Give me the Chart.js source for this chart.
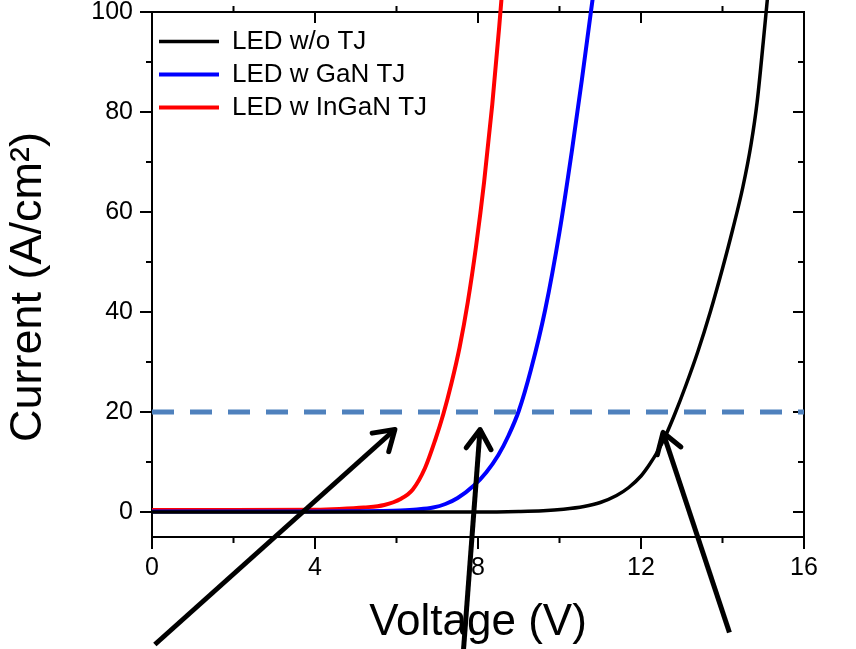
<!DOCTYPE html>
<html>
<head>
<meta charset="utf-8">
<script src="https://cdn.jsdelivr.net/npm/chart.js@4.4.1/dist/chart.umd.min.js"></script>
<style>
  html, body { margin: 0; padding: 0; background: #fff; }
</style>
</head>
<body>
<canvas id="ivChart" width="856" height="649"></canvas>
<script>
// legend names
const seriesNames = ["LED w/o TJ", "LED w GaN TJ", "LED w InGaN TJ"];

// voltage (V) and current density (A/cm2)
const vNoTJ = [0, 4, 8, 9.0, 9.6, 10.1, 10.6, 11.0, 11.4, 11.7, 12.0, 12.2, 12.4, 12.6, 12.83, 13.1, 13.4, 13.7, 14.0, 14.25, 14.5, 14.7, 14.85, 15.0, 15.13];
const iNoTJ = [0, 0, 0, 0.1, 0.25, 0.55, 1.1, 1.9, 3.3, 4.9, 7.2, 9.4, 12.0, 15.2, 19.6, 25.3, 32.2, 40.0, 48.7, 56.5, 65, 73.5, 82, 94, 105];

const vGaN = [0, 2, 4, 5, 5.6, 6.1, 6.5, 6.9, 7.2, 7.5, 7.9, 8.2, 8.5, 8.75, 9.0, 9.3, 9.65, 10.0, 10.3, 10.55, 10.77, 10.87];
const iGaN = [0.1, 0.1, 0.1, 0.15, 0.2, 0.3, 0.5, 0.9, 1.6, 2.8, 5.3, 7.9, 11.4, 15.3, 20.2, 28.5, 40.5, 56, 72, 86.5, 100, 106];

const vInGaN = [0, 2, 4, 4.6, 5.2, 5.7, 6.1, 6.4, 6.7, 6.95, 7.15, 7.35, 7.55, 7.75, 7.95, 8.15, 8.35, 8.52, 8.6];
const iInGaN = [0.4, 0.4, 0.45, 0.6, 0.9, 1.4, 2.6, 4.5, 8.8, 14.4, 19.6, 25.8, 33, 42, 53, 66, 81.5, 97, 105];

// dashed 20 A/cm2 reference line
const refV = [0, 16];
const refI = [20, 20];

// arrows, tail -> tip, in data units
const arrowTailV = [0.07, 7.64, 14.17];
const arrowTailI = [-26.5, -28, -24.1];
const arrowTipV = [5.96, 8.05, 12.54];
const arrowTipI = [16.5, 16.5, 15.9];

// axis ticks
const xTicks = [0, 4, 8, 12, 16];
const xMinorTicks = [2, 6, 10, 14];
const yTicks = [0, 20, 40, 60, 80, 100];
const yMinorTicks = [10, 30, 50, 70, 90];

Chart.defaults.font.family = "'Liberation Sans', Arial, sans-serif";
Chart.defaults.color = "#000";

const toPoints = (xs, ys) => xs.map((x, i) => ({ x: x, y: ys[i] }));

const curve = (label, xs, ys, color, width) => ({
  label: label,
  data: toPoints(xs, ys),
  borderColor: color,
  backgroundColor: color,
  borderWidth: width,
  pointRadius: 0,
  cubicInterpolationMode: "monotone",
  clip: false,
  order: 2,
});

const datasets = [
  curve(seriesNames[0], vNoTJ, iNoTJ, "#000000", 3.5),
  curve(seriesNames[1], vGaN, iGaN, "#0000ff", 4),
  curve(seriesNames[2], vInGaN, iInGaN, "#ff0000", 4),
  {
    label: "20 A/cm2",
    data: toPoints(refV, refI),
    borderColor: "#4f81bd",
    borderWidth: 5,
    borderDash: [22, 16],
    pointRadius: 0,
    clip: false,
    order: 1,
  },
];

arrowTailV.forEach((v, i) => {
  datasets.push({
    label: "arrow" + i,
    isArrow: true,
    data: toPoints([v, arrowTipV[i]], [arrowTailI[i], arrowTipI[i]]),
    borderColor: "#000",
    borderWidth: 5,
    pointRadius: 0,
    clip: false,
    order: 0,
  });
});

// box round the plot with ticks on all four sides
const frameTicks = {
  id: "frameTicks",
  beforeDatasetsDraw(chart) {
    const { ctx, chartArea: a, scales } = chart;
    const sx = scales.x, sy = scales.y;
    ctx.save();
    ctx.strokeStyle = "#000";
    ctx.lineWidth = 2;
    ctx.strokeRect(a.left, a.top, a.right - a.left, a.bottom - a.top);
    ctx.beginPath();
    const seg = (x1, y1, x2, y2) => { ctx.moveTo(x1, y1); ctx.lineTo(x2, y2); };
    xTicks.forEach((v) => {
      const px = sx.getPixelForValue(v);
      seg(px, a.bottom, px, a.bottom + 12);
      seg(px, a.top, px, a.top + 11);
    });
    xMinorTicks.forEach((v) => {
      const px = sx.getPixelForValue(v);
      seg(px, a.bottom, px, a.bottom + 6);
      seg(px, a.top, px, a.top - 6);
    });
    yTicks.forEach((v) => {
      const py = sy.getPixelForValue(v);
      seg(a.left - 12, py, a.left, py);
      seg(a.right - 11, py, a.right, py);
    });
    yMinorTicks.forEach((v) => {
      const py = sy.getPixelForValue(v);
      seg(a.left - 6, py, a.left, py);
      seg(a.right - 6, py, a.right, py);
    });
    ctx.stroke();
    ctx.restore();
  },
};

// open arrow heads at the tip of each arrow dataset
const arrowHeads = {
  id: "arrowHeads",
  afterDatasetsDraw(chart) {
    const ctx = chart.ctx;
    chart.data.datasets.forEach((ds, i) => {
      if (!ds.isArrow) return;
      const pts = chart.getDatasetMeta(i).data;
      const tail = pts[0];
      const tip = pts[pts.length - 1];
      const ang = Math.atan2(tip.y - tail.y, tip.x - tail.x);
      const len = 23;
      const spread = Math.PI / 5.5;
      ctx.save();
      ctx.strokeStyle = ds.borderColor;
      ctx.lineWidth = ds.borderWidth;
      ctx.lineCap = "round";
      ctx.lineJoin = "round";
      ctx.beginPath();
      ctx.moveTo(tip.x - len * Math.cos(ang - spread), tip.y - len * Math.sin(ang - spread));
      ctx.lineTo(tip.x, tip.y);
      ctx.lineTo(tip.x - len * Math.cos(ang + spread), tip.y - len * Math.sin(ang + spread));
      ctx.stroke();
      ctx.restore();
    });
  },
};

// no extra room for the end labels, the plot box is placed by layout padding
const noEdgePadding = (s) => {
  s.paddingTop = 0;
  s.paddingBottom = 0;
  s.paddingLeft = 0;
  s.paddingRight = 0;
};

new Chart(document.getElementById("ivChart"), {
  type: "line",
  data: { datasets: datasets },
  options: {
    responsive: false,
    animation: false,
    events: [],
    layout: { padding: { top: 12, right: 52, left: 0, bottom: 0 } },
    scales: {
      x: {
        type: "linear",
        min: 0,
        max: 16,
        afterBuildTicks: (s) => { s.ticks = xTicks.map((v) => ({ value: v })); },
        afterFit: (s) => { s.height = 112; noEdgePadding(s); },
        grid: { display: false, drawTicks: false },
        border: { display: false },
        ticks: { font: { size: 25 }, color: "#000", padding: 16, maxRotation: 0 },
        title: { display: true, text: "Voltage (V)", font: { size: 44 }, color: "#000", padding: 0 },
      },
      y: {
        type: "linear",
        min: -5,
        max: 100,
        afterBuildTicks: (s) => { s.ticks = yTicks.map((v) => ({ value: v })); },
        afterFit: (s) => { s.width = 152; noEdgePadding(s); },
        grid: { display: false, drawTicks: false },
        border: { display: false },
        ticks: { font: { size: 25 }, color: "#000", padding: 19 },
        title: { display: true, text: "Current (A/cm²)  ", font: { size: 45 }, color: "#000", padding: { top: 2, bottom: 0 } },
      },
    },
    plugins: {
      tooltip: { enabled: false },
      legend: {
        position: "chartArea",
        align: "start",
        // empty title only pushes the rows down inside the plot box
        title: { display: true, text: "", font: { size: 18 }, padding: 0 },
        labels: {
          filter: (item) => item.datasetIndex < seriesNames.length,
          usePointStyle: true,
          pointStyle: "line",
          pointStyleWidth: 60,
          font: { size: 26 },
          color: "#000",
          padding: 7,
        },
      },
    },
  },
  plugins: [frameTicks, arrowHeads],
});
</script>
</body>
</html>
